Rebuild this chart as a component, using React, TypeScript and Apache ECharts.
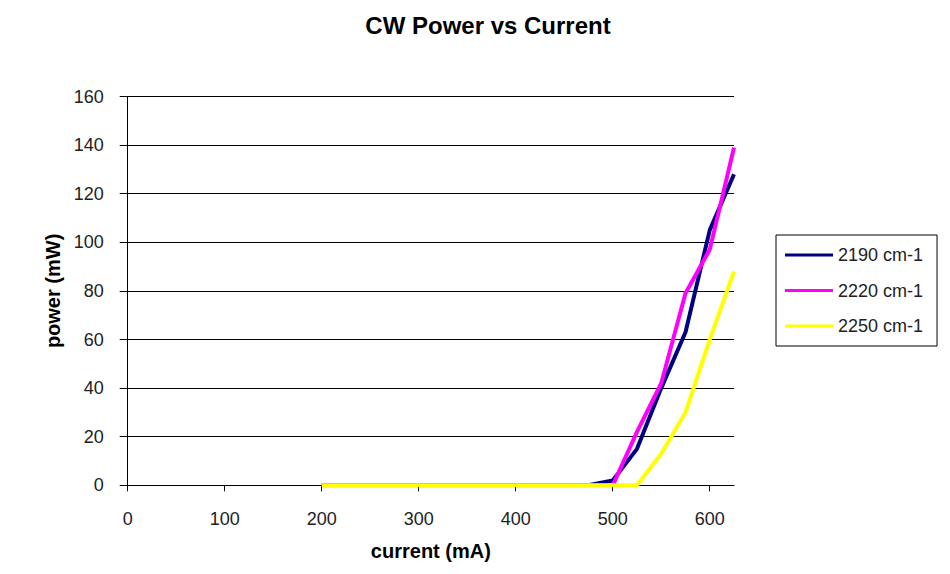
import React, { useEffect, useRef } from "react";
import * as echarts from "echarts";

const titleText = "CW Power vs Current";
const xAxisName = "current (mA)";
const yAxisName = "power (mW)";
const xTicks = [0, 100, 200, 300, 400, 500, 600];

const current2190 = [200, 475, 500, 525, 550, 575, 600, 625];
const power2190 = [0, 0, 2, 15, 40, 63, 105, 128];

const current2220 = [200, 475, 500, 525, 550, 575, 600, 625];
const power2220 = [0, 0, 0, 22, 42, 79, 97, 139];

const current2250 = [200, 525, 550, 575, 600, 625];
const power2250 = [0, 0, 13, 30, 60, 88];

const seriesNames = ["2190 cm-1", "2220 cm-1", "2250 cm-1"];
const seriesColors = ["#000080", "#FF00FF", "#FFFF00"];

const FONT = "'Liberation Sans', Arial, sans-serif";

export default function App() {
  const ref = useRef<HTMLDivElement>(null);
  useEffect(() => {
    if (!ref.current) return;
    const chart = echarts.init(ref.current, null, { renderer: "svg" });
    const pairs = (xs: number[], ys: number[]) => xs.map((x, i) => [x, ys[i]]);
    const datasets = [
      pairs(current2190, power2190),
      pairs(current2220, power2220),
      pairs(current2250, power2250),
    ];
    chart.setOption({
      animation: false,
      backgroundColor: "#ffffff",
      textStyle: { fontFamily: FONT },
      title: {
        text: titleText,
        left: 483,
        top: 8,
        textAlign: "center",
        textStyle: { fontSize: 24, fontWeight: "bold", color: "#000", fontFamily: FONT },
      },
      grid: { left: 127.7, right: 216, top: 96.5, bottom: 88.7, containLabel: false },
      legend: {
        orient: "vertical",
        left: 776,
        top: 235,
        padding: [11, 14, 11, 9],
        itemWidth: 48,
        itemHeight: 3,
        itemGap: 17.5,
        icon: "rect",
        borderColor: "#000",
        borderWidth: 1,
        data: seriesNames,
        textStyle: { fontSize: 18, lineHeight: 18, color: "#222", fontFamily: FONT },
      },
      xAxis: {
        type: "value",
        min: 0,
        max: 625,
        interval: 100,
        name: xAxisName,
        nameLocation: "middle",
        nameGap: 56,
        nameTextStyle: { fontSize: 20, fontWeight: "bold", color: "#000", fontFamily: FONT },
        axisLine: { show: true, lineStyle: { color: "#000", width: 1 } },
        axisTick: { show: true, length: 6, lineStyle: { color: "#000" }, customValues: xTicks },
        axisLabel: { fontSize: 18, color: "#222", margin: 25, customValues: xTicks, fontFamily: FONT },
        splitLine: { show: false },
      },
      yAxis: {
        type: "value",
        min: 0,
        max: 160,
        interval: 20,
        name: yAxisName,
        nameLocation: "middle",
        nameGap: 60,
        nameTextStyle: { fontSize: 20, fontWeight: "bold", color: "#000", fontFamily: FONT },
        axisLine: { show: true, lineStyle: { color: "#000", width: 1 } },
        axisTick: { show: true, length: 8, lineStyle: { color: "#000" } },
        axisLabel: { fontSize: 18, color: "#222", margin: 24, fontFamily: FONT },
        splitLine: { show: true, lineStyle: { color: "#000", width: 1 } },
      },
      series: seriesNames.map((name, i) => ({
        name,
        type: "line",
        data: datasets[i],
        showSymbol: false,
        symbol: "none",
        color: seriesColors[i],
        lineStyle: { width: 4, color: seriesColors[i] },
        z: 2 + i,
      })),
    });
    return () => chart.dispose();
  }, []);
  return <div ref={ref} style={{ width: 950, height: 574, position: "absolute", left: 0, top: 0 }} />;
}
